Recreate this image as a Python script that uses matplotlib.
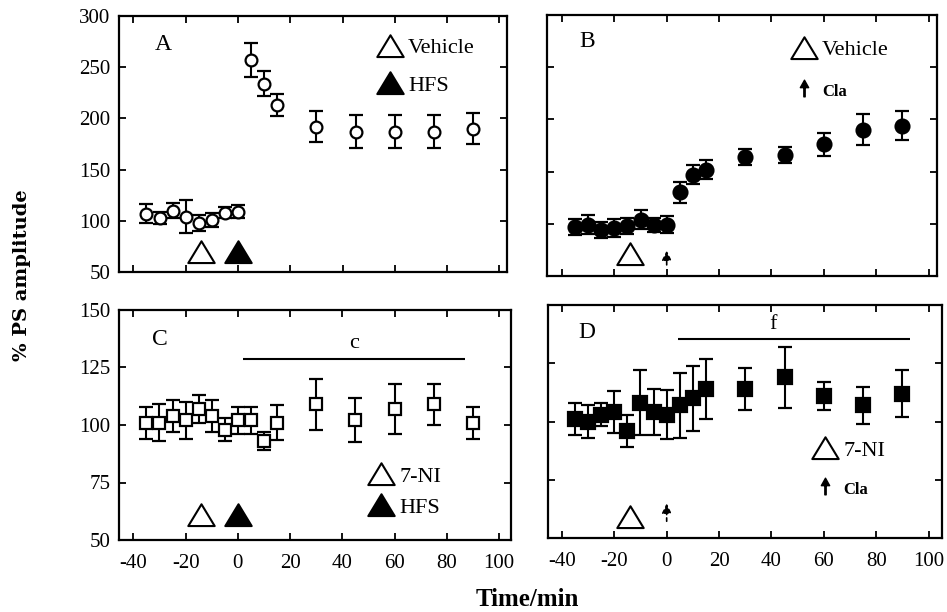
import numpy as np
import matplotlib.pyplot as plt
from matplotlib.lines import Line2D
from matplotlib.path import Path

plt.rcParams['font.family'] = ['Liberation Serif', 'DejaVu Serif']
plt.rcParams['axes.unicode_minus'] = False

# sampling times (min), same for all four panels
time_min = [-35, -30, -25, -20, -15, -10, -5, 0, 5, 10, 15, 30, 45, 60, 75, 90]

# A: vehicle + HFS
amp_a = [107, 103, 110, 104, 98, 101, 108, 109, 257, 234, 213, 192, 187, 187, 187, 190]
err_a = [9, 6, 7, 16, 8, 7, 5, 6, 17, 12, 11, 15, 16, 16, 16, 15]
# B: vehicle + Cla
amp_b = [97, 99, 94, 96, 98, 104, 99, 99, 130, 147, 152, 164, 166, 176, 190, 194]
err_b = [8, 9, 8, 9, 8, 9, 7, 8, 10, 9, 9, 8, 8, 11, 15, 14]
# C: 7-NI + HFS
amp_c = [101, 101, 104, 102, 107, 104, 98, 102, 102, 93, 101, 109, 102, 107, 109, 101]
err_c = [7, 8, 7, 8, 6, 7, 5, 6, 6, 4, 7.5, 11, 9.6, 11, 9, 7]
# D: 7-NI + Cla
amp_d = [101, 100, 103, 104, 96, 108, 104, 103, 107, 110, 114, 114, 119, 111, 107, 112]
err_d = [7, 7, 5, 9, 7, 14, 10, 10.5, 14, 14, 13, 9, 13, 6, 8, 10]

# application times
drug_time = -14
hfs_time = 0
cla_time = 0

# significance bars (start, end, level)
c_bar = [2, 87, 128.5]
f_bar = [4.5, 93, 135.5]

W, H = 947, 612
fig = plt.figure(figsize=(W / 100, H / 100), dpi=100)


def make_ax(l, r, t, b):
    return fig.add_axes([l / W, 1 - b / H, (r - l) / W, (b - t) / H])


# squat triangle (wider than tall) like the original symbols
tri_marker = Path([(-1, -0.8), (1, -0.8), (0, 0.85), (-1, -0.8)],
                  [Path.MOVETO, Path.LINETO, Path.LINETO, Path.CLOSEPOLY])
# small arrow used for Cla
cla_marker = Path(
    [(-0.5, 0.1), (0.5, 0.1), (0, 1), (-0.5, 0.1),
     (-0.08, 0.1), (0.08, 0.1), (0.08, -1), (-0.08, -1), (-0.08, 0.1)],
    [Path.MOVETO, Path.LINETO, Path.LINETO, Path.CLOSEPOLY,
     Path.MOVETO, Path.LINETO, Path.LINETO, Path.LINETO, Path.CLOSEPOLY])

axA = make_ax(119, 507, 16, 272)
axB = make_ax(547, 937, 15, 276)
axC = make_ax(119, 511, 310, 540)
axD = make_ax(548, 942, 305, 538)

axA.set_xlim(-45.5, 102.9)
axB.set_xlim(-45.7, 103.2)
axC.set_xlim(-45.5, 104.6)
axD.set_xlim(-45.3, 105.1)
for ax in (axA, axB):
    ax.set_ylim(50, 300)
    ax.set_yticks(range(50, 301, 50))
for ax in (axC, axD):
    ax.set_ylim(50, 150)
    ax.set_yticks(range(50, 151, 25))

for ax in (axA, axB, axC, axD):
    ax.set_xticks(range(-40, 101, 20))
    ax.tick_params(direction='in', length=5, width=1.3, top=True, right=True,
                   labelsize=15, pad=6)
    ax.tick_params(axis='x', pad=10)
    for s in ax.spines.values():
        s.set_linewidth(1.6)
axA.tick_params(labelbottom=False)
axB.tick_params(labelbottom=False, labelleft=False)
axD.tick_params(labelleft=False)

eb = dict(ls='none', color='k', ecolor='k', elinewidth=1.5, capsize=5, capthick=1.5, mew=1.6)
axA.errorbar(time_min, amp_a, yerr=err_a, marker='o', ms=8.5, mfc='white', mec='k', **eb)
axB.errorbar(time_min, amp_b, yerr=err_b, marker='o', ms=10, mfc='k', mec='k', **eb)
axC.errorbar(time_min, amp_c, yerr=err_c, marker='s', ms=9, mfc='white', mec='k', **eb)
axD.errorbar(time_min, amp_d, yerr=err_d, marker='s', ms=10, mfc='k', mec='k', **eb)

# application markers
tri = dict(marker=tri_marker, ms=19, mew=1.5, mec='k', ls='none', clip_on=False)
axA.plot([drug_time], [70], mfc='white', **tri)
axA.plot([hfs_time], [70], mfc='k', **tri)
axB.plot([drug_time], [71], mfc='white', **tri)
axC.plot([drug_time], [61], mfc='white', **tri)
axC.plot([hfs_time], [61], mfc='k', **tri)
axD.plot([drug_time], [59], mfc='white', **tri)

arrow = dict(arrowstyle='-|>', color='k', lw=1.2, ls=(0, (2, 2)), mutation_scale=14)
axB.annotate('', xy=(cla_time, 77), xytext=(cla_time, 58), arrowprops=arrow)
axD.annotate('', xy=(cla_time, 66), xytext=(cla_time, 56), arrowprops=arrow)

# significance bars
axC.hlines(c_bar[2], c_bar[0], c_bar[1], color='k', lw=1.5)
axC.text((c_bar[0] + c_bar[1]) / 2, c_bar[2] + 3, 'c', ha='center', va='bottom', fontsize=16)
axD.hlines(f_bar[2], f_bar[0], f_bar[1], color='k', lw=1.5)
axD.text((f_bar[0] + f_bar[1]) / 2 - 8, f_bar[2] + 2, 'f', ha='center', va='bottom', fontsize=16)

# panel letters
for ax, lab, (x, y) in zip((axA, axB, axC, axD), 'ABCD',
                           [(0.113, 0.887), (0.103, 0.897), (0.105, 0.87), (0.099, 0.88)]):
    ax.text(x, y, lab, transform=ax.transAxes, ha='center', va='center', fontsize=17)

# legends
h_open = Line2D([], [], marker=tri_marker, ms=19, mfc='white', mec='k', mew=1.5, ls='none')
h_fill = Line2D([], [], marker=tri_marker, ms=19, mfc='k', mec='k', mew=1.5, ls='none')
h_cla = Line2D([], [], marker=cla_marker, ms=12, color='k', ls='none')
lg = dict(loc='upper left', frameon=False, borderpad=0, borderaxespad=0,
          handlelength=1.2, handletextpad=0.2, fontsize=16)

legA = axA.legend([h_open, h_fill], ['Vehicle', 'HFS'], bbox_to_anchor=(0.665, 0.915),
                  labelspacing=0.75, **lg)
legB = axB.legend([h_open, h_cla], ['Vehicle', 'Cla'], bbox_to_anchor=(0.625, 0.905),
                  labelspacing=0.9, **lg)
legC = axC.legend([h_open, h_fill], ['7-NI', 'HFS'], bbox_to_anchor=(0.635, 0.32),
                  labelspacing=0.45, **lg)
legD = axD.legend([h_open, h_cla], ['7-NI', 'Cla'], bbox_to_anchor=(0.67, 0.42),
                  labelspacing=0.8, **lg)
for leg in (legB, legD):
    t = leg.get_texts()[1]
    t.set_fontsize(12)
    t.set_fontweight('bold')

fig.text(22 / W, 1 - 275 / H, '% PS amplitude', rotation=90, ha='center', va='center',
         fontsize=14, fontweight='bold', family='DejaVu Serif')
fig.text(527 / W, 1 - 600 / H, 'Time/min', ha='center', va='center',
         fontsize=18, fontweight='bold')

fig.savefig('out.png', dpi=100)
